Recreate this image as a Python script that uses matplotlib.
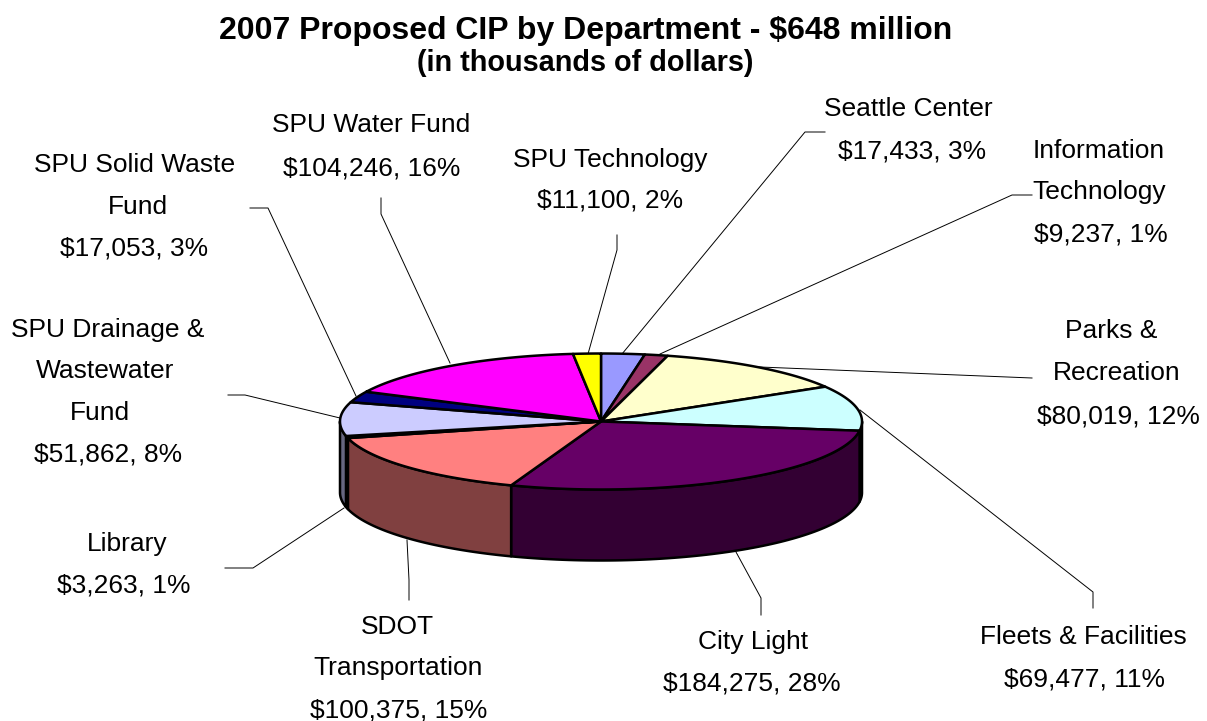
# plot.py - 2007 CIP by department, Excel style 3D pie

import numpy as np
import matplotlib
matplotlib.use("Agg")
import matplotlib.pyplot as plt
from matplotlib.colors import to_rgb
from matplotlib.patches import Polygon

plt.rcParams["font.family"] = ["Liberation Sans", "DejaVu Sans"]

# clockwise from 12 o'clock
departments = [
    "Seattle Center", "Information Technology", "Parks & Recreation",
    "Fleets & Facilities", "City Light", "SDOT Transportation", "Library",
    "SPU Drainage & Wastewater Fund", "SPU Solid Waste Fund",
    "SPU Water Fund", "SPU Technology",
]
values = [17433, 9237, 80019, 69477, 184275, 100375, 3263, 51862, 17053, 104246, 11100]
colors = [
    "#9999FF", "#993366", "#FFFFCC", "#CCFFFF", "#660066", "#FF8080",
    "#0066CC", "#CCCCFF", "#000080", "#FF00FF", "#FFFF00",
]

# label lines with their centre position in pixels
label_lines = [
    [("Seattle Center", 908, 108), ("$17,433, 3%", 912, 150)],
    [("Information", 1099, 150), ("Technology", 1099, 191), ("$9,237, 1%", 1101, 233)],
    [("Parks &", 1111, 330), ("Recreation", 1117, 371), ("$80,019, 12%", 1118, 415)],
    [("Fleets & Facilities", 1083, 636), ("$69,477, 11%", 1085, 678)],
    [("City Light", 753, 640), ("$184,275, 28%", 752, 682)],
    [("SDOT", 397, 625), ("Transportation", 398, 667), ("$100,375, 15%", 399, 709)],
    [("Library", 127, 542), ("$3,263, 1%", 124, 584)],
    [("SPU Drainage &", 108, 329), ("Wastewater", 105, 370), ("Fund", 100, 411), ("$51,862, 8%", 108, 453)],
    [("SPU Solid Waste", 135, 164), ("Fund", 138, 205), ("$17,053, 3%", 134, 247)],
    [("SPU Water Fund", 371, 124), ("$104,246, 16%", 372, 167)],
    [("SPU Technology", 610, 158), ("$11,100, 2%", 610, 199)],
]

leaders = [
    [(622, 354), (805, 132), (825, 132)],
    [(660, 354), (1012, 195), (1032, 195)],
    [(735, 366), (1032, 378)],
    [(860, 410), (1093, 592), (1093, 608)],
    [(736, 552), (761, 598), (761, 615)],
    [(407, 540), (409, 580), (409, 600)],
    [(344, 508), (253, 568), (225, 568)],
    [(340, 418), (245, 395), (228, 395)],
    [(356, 396), (268, 208), (250, 208)],
    [(450, 363), (381, 214), (381, 198)],
    [(588, 354), (617, 250), (617, 235)],
]

CX, CY = 601, 421.5
RX, RY = 261, 68
DEPTH = 71


def rim(theta, drop=0):
    return np.column_stack([CX + RX * np.sin(theta), CY - RY * np.cos(theta) + drop])


def main():
    fig = plt.figure(figsize=(12.07, 7.21), dpi=100)
    ax = fig.add_axes([0, 0, 1, 1])
    ax.set_xlim(0, 1207)
    ax.set_ylim(721, 0)
    ax.axis("off")

    for path in leaders:
        xs, ys = zip(*path)
        ax.plot(xs, ys, color="black", lw=0.7, zorder=1)

    edges = np.cumsum([0] + values) / sum(values) * 2 * np.pi

    # side walls, only the front half of the rim shows
    for i, color in enumerate(colors):
        lo = max(edges[i], np.pi / 2)
        hi = min(edges[i + 1], 3 * np.pi / 2)
        if hi <= lo:
            continue
        t = np.linspace(lo, hi, 80)
        wall = np.vstack([rim(t), rim(t[::-1], DEPTH)])
        shade = tuple(c * 0.5 for c in to_rgb(color))
        ax.add_patch(Polygon(wall, closed=True, facecolor=shade, edgecolor="black",
                             lw=1.8, joinstyle="round", zorder=2))

    # top face
    for i, color in enumerate(colors):
        t = np.linspace(edges[i], edges[i + 1], 80)
        top = np.vstack([[CX, CY], rim(t)])
        ax.add_patch(Polygon(top, closed=True, facecolor=color, edgecolor="black",
                             lw=1.8, joinstyle="round", zorder=3))

    # baseline so that lines with $ sit level with the others
    for lines in label_lines:
        for text, x, y in lines:
            ax.text(x, y + 8.5, text, ha="center", va="baseline", fontsize=19, color="black")

    ax.text(585.5, 39, "2007 Proposed CIP by Department - $648 million", ha="center",
            va="baseline", fontsize=23, fontweight="bold")
    ax.text(585, 71, "(in thousands of dollars)", ha="center", va="baseline",
            fontsize=20.8, fontweight="bold")

    fig.savefig("out.png", dpi=100)
    plt.close(fig)


if __name__ == "__main__":
    main()
